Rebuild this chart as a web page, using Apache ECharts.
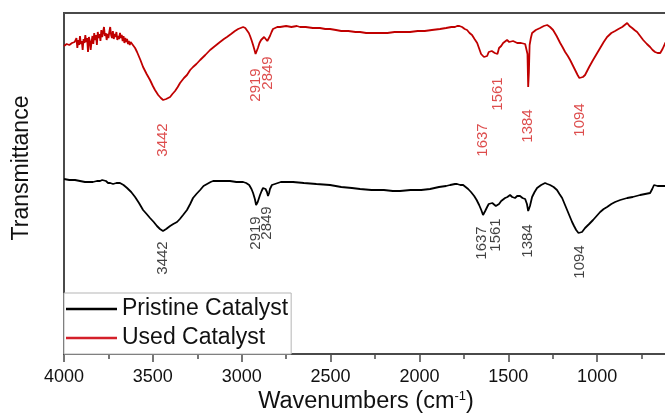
<!DOCTYPE html>
<html><head><meta charset="utf-8">
<script src="https://cdn.jsdelivr.net/npm/echarts@6/dist/echarts.min.js"></script>
<style>html,body{margin:0;padding:0;background:#fff}#c{width:665px;height:416px}</style>
</head><body><div id="c"></div>
<script>
// x ticks
const xTicks = [4000, 3500, 3000, 2500, 2000, 1500, 1000, 500];
// Used catalyst (red) spectrum: [wavenumber, transmittance a.u.]
const usedCatalyst = [
 [4000,308],[3985,310],[3970,309],[3955,311],[3940,312],[3930,316],[3925,306],[3920,314],[3915,309],[3910,318],
 [3905,310],[3900,313],[3895,304],[3890,315],[3885,311],[3880,319],[3875,312],[3870,316],[3865,302],[3860,317],
 [3855,313],[3850,304],[3845,312],[3840,318],[3835,310],[3830,321],[3825,314],[3820,319],[3815,309],[3810,322],
 [3805,316],[3800,320],[3795,313],[3790,324],[3785,317],[3780,316],[3775,327],[3770,318],[3765,321],[3760,314],
 [3755,320],[3750,316],[3745,322],[3740,327],[3735,319],[3730,316],[3725,323],[3720,315],[3715,320],[3710,317],
 [3705,322],[3700,314],[3695,318],[3690,315],[3685,321],[3680,316],[3675,319],[3670,313],[3665,318],[3660,311],
 [3655,316],[3650,312],[3645,315],[3640,310],[3635,313],[3630,309],[3625,312],[3617,314],[3600,306],[3589,302],
 [3570,294],[3555,287],[3535,280],[3516,274],[3500,268],[3488,264],[3470,259],[3455,256],[3442,254],[3425,255],
 [3403,257],[3390,260],[3375,263],[3360,267],[3347,271],[3325,276],[3308,279],[3290,284],[3274,287],[3255,290],
 [3234,294],[3205,299],[3178,304],[3150,308],[3122,312],[3100,315],[3083,317],[3060,320],[3038,323],[3020,325],
 [3009,326],[2992,327],[2980,326],[2970,324],[2960,321],[2953,318],[2945,314],[2936,309],[2928,304],[2922,300],
 [2915,302],[2909,306],[2900,311],[2891,314],[2882,316],[2874,317],[2863,316],[2856,313],[2850,312],[2845,315],
 [2841,318],[2832,322],[2824,325],[2800,327],[2784,327],[2750,328],[2720,327],[2690,328],[2672,327],[2640,327],
 [2600,326],[2560,326],[2530,325],[2503,325],[2470,324],[2440,323],[2400,323],[2360,322],[2334,322],[2300,321],
 [2260,321],[2221,321],[2180,321],[2140,322],[2100,322],[2053,322],[2010,323],[1970,323],[1930,324],[1884,325],
 [1850,326],[1820,327],[1800,327],[1788,328],[1775,328],[1760,327],[1745,325],[1732,324],[1718,321],[1704,319],
 [1690,315],[1675,311],[1665,306],[1653,300],[1645,298],[1637,297],[1628,297],[1619,298],[1610,302],[1602,304],
 [1593,303],[1585,303],[1576,301],[1568,299],[1561,300],[1552,306],[1540,308],[1529,311],[1518,312],[1507,314],
 [1495,312],[1484,311],[1473,313],[1462,313],[1450,311],[1439,310],[1428,311],[1417,311],[1405,310],[1397,310],
 [1392,300],[1388,267],[1384,282],[1380,309],[1373,316],[1366,321],[1345,324],[1321,326],[1300,328],[1281,329],
 [1265,327],[1248,324],[1228,318],[1208,311],[1195,307],[1180,302],[1165,298],[1152,294],[1138,289],[1124,284],
 [1110,279],[1100,276],[1090,276],[1080,277],[1068,279],[1045,287],[1023,294],[1003,300],[983,306],[963,312],
 [944,317],[920,321],[899,323],[880,325],[859,327],[845,329],[831,331],[818,328],[803,326],[790,324],
 [775,322],[758,318],[741,314],[720,310],[702,307],[688,304],[674,302],[660,301],[645,301],[632,305],
 [617,311],[600,315],[589,316]
];
// Pristine catalyst (black) spectrum
const pristineCatalyst = [
 [4000,175],[3970,174],[3938,174],[3910,173],[3882,172],[3860,172],[3837,172],[3815,173],[3797,173],[3785,174],
 [3775,174],[3764,173],[3752,171],[3740,171],[3724,170],[3705,171],[3685,171],[3665,169],[3645,166],[3622,162],
 [3600,157],[3578,151],[3555,144],[3535,140],[3516,136],[3495,132],[3477,128],[3460,125],[3443,123],[3425,125],
 [3403,128],[3385,130],[3364,132],[3348,135],[3330,139],[3308,144],[3290,150],[3274,156],[3255,160],[3234,164],
 [3215,168],[3195,170],[3175,172],[3161,173],[3120,173],[3066,173],[3030,172],[2992,172],[2975,171],[2958,169],
 [2945,165],[2936,161],[2926,155],[2919,149],[2910,152],[2897,159],[2888,163],[2880,166],[2866,165],[2858,162],
 [2852,158],[2846,161],[2841,165],[2830,169],[2824,171],[2780,172],[2740,172],[2711,172],[2650,171],[2580,170],
 [2503,169],[2440,167],[2380,166],[2334,165],[2270,164],[2200,164],[2150,163],[2109,163],[2050,164],[1990,164],
 [1940,165],[1890,167],[1850,168],[1827,169],[1800,170],[1788,170],[1770,169],[1754,169],[1740,167],[1726,165],
 [1710,162],[1692,158],[1678,154],[1664,149],[1652,144],[1642,139],[1630,143],[1619,147],[1610,150],[1602,151],
 [1590,151],[1580,150],[1570,148],[1561,146],[1552,150],[1540,153],[1530,154],[1518,156],[1505,157],[1490,159],
 [1478,157],[1462,156],[1450,158],[1434,158],[1420,156],[1405,155],[1395,150],[1388,143],[1383,141],[1378,148],
 [1366,157],[1352,162],[1338,166],[1315,169],[1293,171],[1280,170],[1265,169],[1245,167],[1226,164],[1212,160],
 [1197,156],[1183,150],[1169,144],[1155,138],[1141,132],[1130,128],[1118,124],[1105,121],[1096,119],[1085,122],
 [1068,126],[1045,130],[1023,134],[1003,138],[983,142],[963,145],[944,147],[920,150],[899,152],[870,154],
 [831,156],[800,157],[758,159],[730,160],[702,161],[690,165],[680,169],[669,171],[660,168],[652,166],
 [643,168],[635,170],[617,168],[600,169]
];
// peak annotations: [label x (cm-1), label y (a.u.), text]
const usedLabels = [
 [3443,214,'3442'],[2919,269,'2919'],[2852,281,'2849'],[1642,214,'1637'],
 [1557,260,'1561'],[1388,228,'1384'],[1096,234,'1094']
];
const pristineLabels = [
 [3443,96,'3442'],[2919,121,'2919'],[2857,131,'2849'],[1647,111,'1637'],
 [1569,119,'1561'],[1388,113,'1384'],[1096,92,'1094']
];
const seriesNames = ['Pristine Catalyst', 'Used Catalyst'];

const FONT = 'Arial, "Liberation Sans", sans-serif';
const chart = echarts.init(document.getElementById('c'), null, {renderer: 'canvas'});
chart.setOption({
  animation: false,
  backgroundColor: '#fff',
  grid: {left: 64, top: 13, width: 622, height: 341, show: true, borderColor: '#4a4a4a', borderWidth: 2,
         containLabel: false, outerBoundsMode: 'none'},
  xAxis: {
    type: 'value', inverse: true, min: 500, max: 4000, interval: 500,
    axisLine: {lineStyle: {color: '#4a4a4a', width: 2}},
    axisTick: {length: 8, lineStyle: {color: '#4a4a4a', width: 1.5}},
    minorTick: {show: true, splitNumber: 2, length: 5, lineStyle: {color: '#4a4a4a', width: 1.5}},
    splitLine: {show: false},
    axisLabel: {color: '#111', fontSize: 18, fontFamily: FONT, margin: 14,
      formatter: v => xTicks.includes(v) ? String(v) : ''}
  },
  yAxis: {
    type: 'value', min: 0, max: 341,
    axisLine: {show: true, lineStyle: {color: '#4a4a4a', width: 2}},
    axisTick: {show: false}, axisLabel: {show: false}, splitLine: {show: false}
  },
  legend: {
    data: seriesNames, orient: 'vertical', left: 64, top: 293,
    itemWidth: 51, itemHeight: 2.5, itemGap: 1, icon: 'rect',
    padding: [2, 3, 2, 2],
    backgroundColor: '#fff', borderColor: '#b5b5b5', borderWidth: 1,
    textStyle: {fontSize: 23, fontFamily: FONT, color: '#111', lineHeight: 28}
  },
  graphic: [
    {type: 'text', x: 22, y: 168, rotation: Math.PI / 2,
     style: {text: 'Transmittance', fontSize: 23, fontFamily: FONT, fill: '#111', align: 'center', verticalAlign: 'middle'}},
    {type: 'text', x: 366, y: 402,
     style: {text: '{a|Wavenumbers (cm}{s|-1}{a|)}', align: 'center', verticalAlign: 'middle', fill: '#111',
       rich: {a: {fontSize: 23.5, fontFamily: FONT, fill: '#111'},
              s: {fontSize: 13, fontFamily: FONT, fill: '#111', verticalAlign: 'top', padding: [0, 0, 8, 0]}}}}
  ],
  series: [
    {name: 'Pristine Catalyst', type: 'line', data: pristineCatalyst, showSymbol: false, symbol: 'none',
     lineStyle: {color: '#000', width: 1.8}, itemStyle: {color: '#000'}, z: 3},
    {name: 'Used Catalyst', type: 'line', data: usedCatalyst, showSymbol: false, symbol: 'none',
     lineStyle: {color: '#c00000', width: 1.8}, itemStyle: {color: '#d4202a'}, z: 3},
    {type: 'scatter', data: pristineLabels, symbolSize: 0, silent: true, z: 5,
     label: {show: true, position: 'inside', rotate: 90, formatter: p => p.data[2],
       fontSize: 15, fontFamily: FONT, color: '#111'}},
    {type: 'scatter', data: usedLabels, symbolSize: 0, silent: true, z: 5,
     label: {show: true, position: 'inside', rotate: 90, formatter: p => p.data[2],
       fontSize: 15, fontFamily: FONT, color: '#d42020'}}
  ]
});
</script></body></html>
